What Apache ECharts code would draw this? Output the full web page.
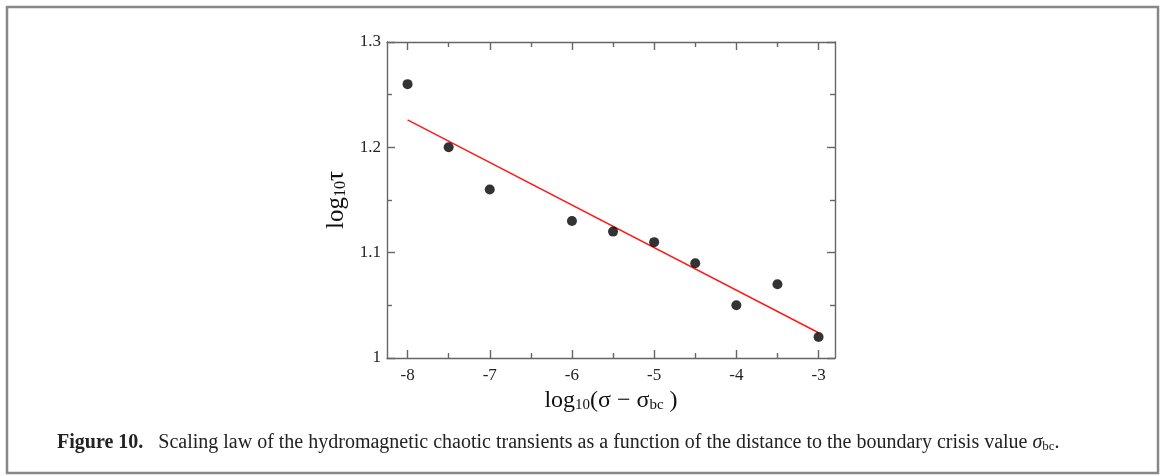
<!DOCTYPE html>
<html>
<head>
<meta charset="utf-8">
<title>Scaling law of hydromagnetic chaotic transients</title>
<script src="https://cdn.jsdelivr.net/npm/echarts@6/dist/echarts.min.js"></script>
<style>
  html, body { margin: 0; padding: 0; background: #fff; }
  #chart { width: 1165px; height: 476px; }
</style>
</head>
<body>
<div id="chart"></div>
<script>
// log10(sigma - sigma_bc) for each simulation
const logDistance = [-8, -7.5, -7, -6, -5.5, -5, -4.5, -4, -3.5, -3];
// log10(tau): mean transient lifetime
const logLifetime = [1.26, 1.20, 1.16, 1.13, 1.12, 1.11, 1.09, 1.05, 1.07, 1.02];
// least-squares fit line, end points
const fitX = [-8, -3];
const fitY = [1.226, 1.024];
// tick positions
const xMajorTicks = [-8, -7, -6, -5, -4, -3];
const xMinorTicks = [-7.5, -6.5, -5.5, -4.5, -3.5];

const SERIF = '"Liberation Serif", "DejaVu Serif", serif';
const AXIS_COLOR = '#666';

const chart = echarts.init(document.getElementById('chart'), null, { renderer: 'canvas' });

const X_MIN = -8.25, X_MAX = -2.8;

function xAxisDef(position, ticks, len, showLine, showLabel, extra) {
  return Object.assign({
    type: 'value',
    position: position,
    min: X_MIN,
    max: X_MAX,
    axisLine: { show: showLine, onZero: false, lineStyle: { color: AXIS_COLOR, width: 1.4 } },
    axisTick: { show: true, inside: true, length: len, customValues: ticks,
                lineStyle: { color: AXIS_COLOR, width: 1.4 } },
    axisLabel: showLabel ? {
      show: true, customValues: ticks, margin: 9,
      fontFamily: SERIF, fontSize: 17, color: '#222',
      formatter: v => String(v)
    } : { show: false },
    splitLine: { show: false }
  }, extra || {});
}

function yAxisDef(position, showLabel, extra) {
  return Object.assign({
    type: 'value',
    position: position,
    min: 1,
    max: 1.3,
    interval: 0.1,
    axisLine: { show: true, onZero: false, lineStyle: { color: AXIS_COLOR, width: 1.4 } },
    axisTick: { show: true, inside: true, length: 8, lineStyle: { color: AXIS_COLOR, width: 1.4 } },
    minorTick: { show: true, splitNumber: 2, length: 5, lineStyle: { color: AXIS_COLOR, width: 1.4 } },
    axisLabel: showLabel ? {
      show: true, margin: 6,
      fontFamily: SERIF, fontSize: 17, color: '#222',
      formatter: v => String(+v.toFixed(2))
    } : { show: false },
    splitLine: { show: false },
    minorSplitLine: { show: false }
  }, extra || {});
}

// main text + lowered subscript styles for axis titles
function titleRich(size) {
  return {
    m: { fontFamily: SERIF, fontSize: size, color: '#111', lineHeight: size, padding: [0, 0, 7, 0], verticalAlign: 'top' },
    s: { fontFamily: SERIF, fontSize: Math.round(size * 0.64), color: '#111', lineHeight: 17, verticalAlign: 'bottom' }
  };
}

const option = {
  backgroundColor: '#fff',
  animation: false,
  grid: { left: 387, top: 42, width: 448, height: 316, containLabel: false },
  xAxis: [
    xAxisDef('bottom', xMajorTicks, 8, true, true, {
      name: '{m|log}{s|10}{m|(σ − σ}{s|bc}{m| )}',
      nameLocation: 'middle',
      nameGap: 31,
      nameTextStyle: { fontFamily: SERIF, color: '#111', rich: titleRich(24) }
    }),
    xAxisDef('bottom', xMinorTicks, 5, false, false),
    xAxisDef('top', xMajorTicks, 8, true, false),
    xAxisDef('top', xMinorTicks, 5, false, false)
  ],
  yAxis: [
    yAxisDef('left', true, {
      name: '{m|log}{s|10}{m|τ}',
      nameLocation: 'middle',
      nameRotate: 90,
      nameGap: 37,
      nameTextStyle: { fontFamily: SERIF, color: '#111', rich: titleRich(25) }
    }),
    yAxisDef('right', false)
  ],
  series: [
    {
      name: 'fit',
      type: 'line',
      xAxisIndex: 0,
      yAxisIndex: 0,
      data: fitX.map((x, i) => [x, fitY[i]]),
      symbol: 'none',
      lineStyle: { color: '#ff1a1a', width: 1.5 },
      z: 2
    },
    {
      name: 'transients',
      type: 'scatter',
      xAxisIndex: 0,
      yAxisIndex: 0,
      data: logDistance.map((x, i) => [x, logLifetime[i]]),
      symbol: 'circle',
      symbolSize: 10,
      itemStyle: { color: '#000' },
      z: 3
    }
  ],
  graphic: [
    {
      type: 'rect',
      shape: { x: 7, y: 7, width: 1151, height: 466 },
      style: { fill: 'none', stroke: '#888', lineWidth: 2.5 },
      silent: true
    },
    {
      type: 'text',
      left: 57,
      top: 433,
      style: {
        text: '{b|Figure 10.}{n|   Scaling law of the hydromagnetic chaotic transients as a function of the distance to the boundary crisis value }{i|σ}{s|bc}{n|.}',
        rich: {
          b: { fontFamily: SERIF, fontSize: 20, fontWeight: 'bold', fill: '#222', lineHeight: 20, padding: [0, 0, 5, 0], verticalAlign: 'top' },
          n: { fontFamily: SERIF, fontSize: 20, fill: '#222', lineHeight: 20, padding: [0, 0, 5, 0], verticalAlign: 'top' },
          i: { fontFamily: SERIF, fontSize: 20, fontStyle: 'italic', fill: '#222', lineHeight: 20, padding: [0, 0, 5, 0], verticalAlign: 'top' },
          s: { fontFamily: SERIF, fontSize: 13, fill: '#222', lineHeight: 14, verticalAlign: 'bottom' }
        }
      }
    }
  ]
};

chart.setOption(option);
</script>
</body>
</html>
